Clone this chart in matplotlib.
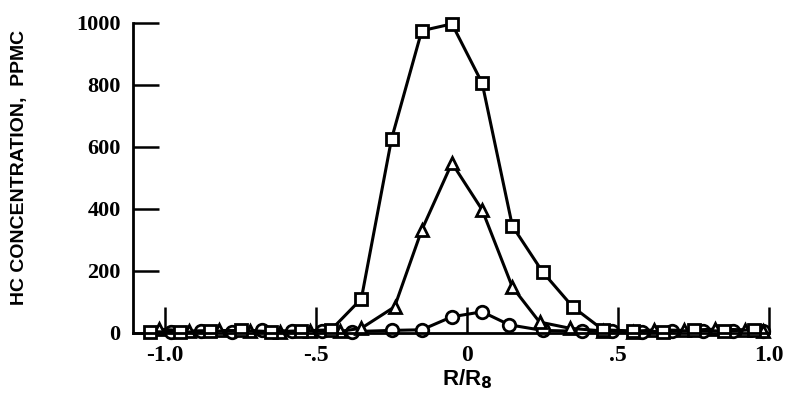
import matplotlib
matplotlib.use("Agg")
import matplotlib.pyplot as plt

# region Data ---------------------------------------------------------------
sq_x = [-1.05, -0.95, -0.85, -0.75, -0.65, -0.55, -0.45, -0.35, -0.25, -0.15, -0.05,
        0.05, 0.15, 0.25, 0.35, 0.45, 0.55, 0.65, 0.75, 0.85, 0.95]
sq_y = [4, 2, 5, 8, 4, 6, 10, 110, 626, 975, 997,
        806, 345, 197, 84, 10, 6, 4, 8, 6, 10]

tri_x = [-1.02, -0.92, -0.82, -0.72, -0.62, -0.52, -0.42, -0.35, -0.24, -0.15, -0.05,
         0.05, 0.15, 0.24, 0.34, 0.45, 0.55, 0.62, 0.72, 0.82, 0.92, 0.98]
tri_y = [12, 6, 8, 5, 4, 6, 5, 15, 84, 332, 548,
         397, 148, 35, 15, 6, 4, 10, 8, 12, 10, 6]

circ_x = [-0.98, -0.88, -0.78, -0.68, -0.58, -0.48, -0.38, -0.25, -0.15, -0.05,
          0.05, 0.14, 0.25, 0.38, 0.48, 0.58, 0.68, 0.78, 0.88, 0.98]
circ_y = [3, 5, 4, 8, 6, 5, 4, 8, 10, 52,
          68, 26, 8, 5, 6, 4, 7, 5, 6, 5]

xticks = [-1.0, -0.5, 0.0, 0.5, 1.0]
xtick_labels = ["-1.0", "-.5", "0", ".5", "1.0"]
yticks = [0, 200, 400, 600, 800, 1000]
# endregion

fig = plt.figure(figsize=(7.92, 4.03), dpi=100)
ax = fig.add_axes([0.168, 0.174, 0.803, 0.769])

style = dict(color="black", lw=2.2, markersize=9, markerfacecolor="white",
             markeredgecolor="black", markeredgewidth=2, clip_on=False)
ax.plot(circ_x, circ_y, marker="o", **style)
ax.plot(tri_x, tri_y, marker="^", **style)
ax.plot(sq_x, sq_y, marker="s", **style)

ax.set_xlim(-1.106, 1.0)
ax.set_ylim(0, 1000)

for s in ["top", "right"]:
    ax.spines[s].set_visible(False)
for s in ["left", "bottom"]:
    ax.spines[s].set_linewidth(2)

ax.set_xticks(xticks)
ax.set_xticklabels(xtick_labels, family="Liberation Serif", fontweight="bold", fontsize=17)
ax.set_yticks(yticks)
ax.set_yticklabels([str(v) for v in yticks],
                   family="Liberation Serif", fontweight="bold", fontsize=16)
ax.tick_params(axis="both", direction="in", length=19, width=1.8)
ax.tick_params(axis="y", pad=9)
ax.tick_params(axis="x", pad=9)

ax.set_xlabel("R/R$_{\\mathbf{8}}$", family="Liberation Sans", fontsize=16, fontweight="bold")
ax.xaxis.set_label_coords(0.525, -0.11)
ax.xaxis.label.set_va("top")
ax.set_ylabel("HC CONCENTRATION,  PPMC", family="Liberation Sans",
              fontweight="bold", fontsize=14)
ax.yaxis.set_label_coords(-0.178, 0.535)
ax.yaxis.label.set_va("center")

fig.savefig("out.png", dpi=100)
